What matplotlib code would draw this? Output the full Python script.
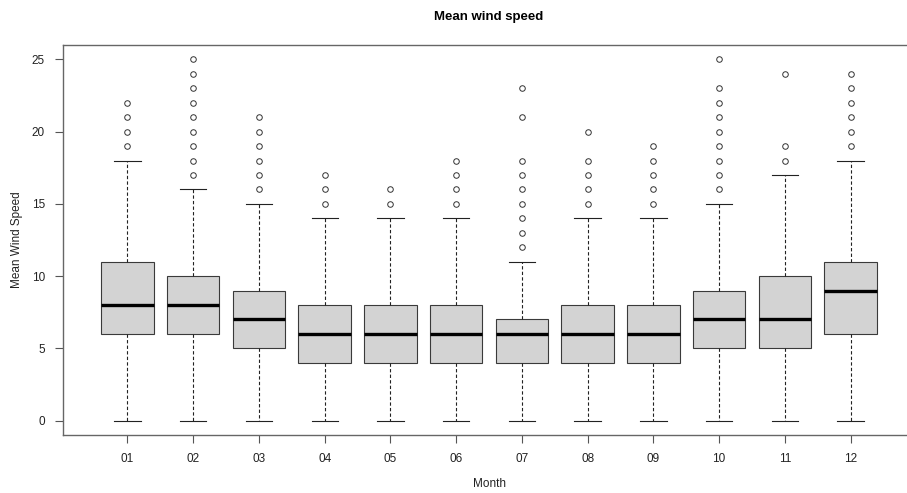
import matplotlib
matplotlib.use("Agg")
import matplotlib.pyplot as plt

plt.rcParams['font.family'] = ['Liberation Sans', 'DejaVu Sans']

months = ["01", "02", "03", "04", "05", "06", "07", "08", "09", "10", "11", "12"]
whisker_low = [0, 0, 0, 0, 0, 0, 0, 0, 0, 0, 0, 0]
q1 = [6, 6, 5, 4, 4, 4, 4, 4, 4, 5, 5, 6]
median = [8, 8, 7, 6, 6, 6, 6, 6, 6, 7, 7, 9]
q3 = [11, 10, 9, 8, 8, 8, 7, 8, 8, 9, 10, 11]
whisker_high = [18, 16, 15, 14, 14, 14, 11, 14, 14, 15, 17, 18]
outliers = [
    [19, 20, 21, 22],
    [17, 18, 19, 20, 21, 22, 23, 24, 25],
    [16, 17, 18, 19, 20, 21],
    [15, 16, 17],
    [15, 16],
    [15, 16, 17, 18],
    [12, 13, 14, 15, 16, 17, 18, 21, 23],
    [15, 16, 17, 18, 20],
    [15, 16, 17, 18, 19],
    [16, 17, 18, 19, 20, 21, 22, 23, 25],
    [18, 19, 24],
    [19, 20, 21, 22, 23, 24],
]

stats = []
for i, m in enumerate(months):
    stats.append({
        "label": m,
        "whislo": whisker_low[i],
        "q1": q1[i],
        "med": median[i],
        "q3": q3[i],
        "whishi": whisker_high[i],
        "fliers": outliers[i],
    })

fig = plt.figure(figsize=(9.07, 4.93), dpi=100)
W, H = 907, 493
# plot region runs past the right edge of the picture, like the reference
ax = fig.add_axes([63 / W, 1 - 435 / H, (915 - 63) / W, (435 - 45) / H])

ax.bxp(
    stats,
    positions=range(1, 13),
    widths=0.8,
    patch_artist=True,
    boxprops=dict(facecolor="#d3d3d3", edgecolor="#3a3a3a", linewidth=0.8),
    medianprops=dict(color="black", linewidth=2.4, solid_capstyle="butt"),
    whiskerprops=dict(color="#222222", linestyle=(0, (3, 2)), linewidth=0.8),
    capprops=dict(color="#222222", linewidth=0.8),
    capwidths=0.4,
    flierprops=dict(marker="o", markersize=4, markerfacecolor="none",
                    markeredgecolor="#333333", markeredgewidth=0.7),
)

ax.set_xlim(0.02, 12.98)
ax.set_ylim(-1, 26)
ax.set_yticks([0, 5, 10, 15, 20, 25])
ax.set_xticks(range(1, 13), labels=months)
ax.tick_params(axis="both", direction="out", length=6, width=0.8,
               labelsize=8.5, colors="#555555", labelcolor="#222222", pad=7)
ax.spines["right"].set_visible(False)
for s in ax.spines.values():
    s.set_color("#666666")
    s.set_linewidth(1.0)

fig.text(489 / W, 1 - 17 / H, "Mean wind speed", ha="center", va="center",
         fontsize=9.5, fontweight="bold")
fig.text(489 / W, 1 - 484 / H, "Month", ha="center", va="center", fontsize=8.5,
         color="#222222")
fig.text(17 / W, 1 - 240 / H, "Mean Wind Speed", ha="center", va="center",
         rotation=90, fontsize=8.5, color="#222222")

fig.savefig("out.png", dpi=100)
